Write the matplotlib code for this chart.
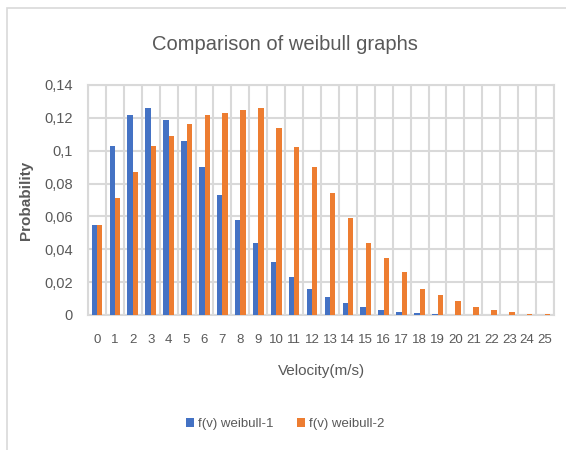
import numpy as np
import matplotlib.pyplot as plt
from matplotlib.ticker import FuncFormatter
from matplotlib.patches import Rectangle

plt.rcParams['font.family'] = ['Liberation Sans', 'DejaVu Sans']

velocity = list(range(26))
weibull_1 = [0.055, 0.103, 0.122, 0.126, 0.119, 0.106, 0.090, 0.073, 0.058, 0.044,
             0.032, 0.023, 0.016, 0.011, 0.0075, 0.005, 0.003, 0.002, 0.001, 0.0007,
             0.0003, 0.0001, 0.0, 0.0, 0.0, 0.0]
weibull_2 = [0.055, 0.071, 0.087, 0.103, 0.109, 0.116, 0.122, 0.123, 0.125, 0.126,
             0.114, 0.102, 0.090, 0.074, 0.059, 0.044, 0.035, 0.026, 0.016, 0.012,
             0.0085, 0.005, 0.003, 0.002, 0.0008, 0.0008]

blue = '#4472C4'
orange = '#ED7D31'
grey = '#595959'

fig = plt.figure(figsize=(5.66, 4.5), dpi=100)
ax = fig.add_axes([88/566, 1-315/450, (554-88)/566, (315-85)/450])

# outer chart frame
fig.patches.append(Rectangle((7/566, -0.1), 1.2, (450-8)/450 + 0.1, transform=fig.transFigure,
                             fill=False, edgecolor='#d9d9d9', linewidth=1.2))

x = np.arange(len(velocity))
w = 0.3
ax.bar(x - w/2, weibull_1, w, color=blue, label='f(v) weibull-1', zorder=3)
ax.bar(x + w/2, weibull_2, w, color=orange, label='f(v) weibull-2', zorder=3)

ax.set_xlim(-0.5, len(velocity) - 0.5)
ax.set_ylim(0, 0.14)
ax.set_yticks(np.arange(0, 0.141, 0.02))
ax.yaxis.set_major_formatter(FuncFormatter(lambda v, p: '0' if v == 0 else f'{v:.2f}'.rstrip('0').replace('.', ',')))
ax.set_xticks(x)
ax.set_xticklabels([str(v) for v in velocity])
ax.set_xticks(np.arange(-0.5, len(velocity), 1), minor=True)

ax.grid(True, which='major', axis='y', color='#d9d9d9', linewidth=1.5, zorder=0)
ax.grid(True, which='minor', axis='x', color='#d9d9d9', linewidth=1.5, zorder=0)
for s in ax.spines.values():
    s.set_color('#d9d9d9')
    s.set_linewidth(1.5)
ax.tick_params(which='both', length=0, colors=grey)
ax.tick_params(axis='x', pad=14, labelsize=9.5)
ax.tick_params(axis='y', pad=11, labelsize=10.5)

ax.set_xlabel('Velocity(m/s)', color=grey, fontsize=11, labelpad=13)
ax.set_ylabel('Probability', color=grey, fontsize=11, fontweight='bold', labelpad=8)
fig.text(285/566, 1-45/450, 'Comparison of weibull graphs', ha='center', va='center',
         fontsize=14.5, color=grey)

fig.legend(loc='center', bbox_to_anchor=(285/566, 1-424/450), ncol=2, frameon=False,
           fontsize=9.5, labelcolor=grey, handlelength=0.6, handleheight=0.6,
           handletextpad=0.3, columnspacing=1.8)

fig.savefig('out.png', dpi=100)
